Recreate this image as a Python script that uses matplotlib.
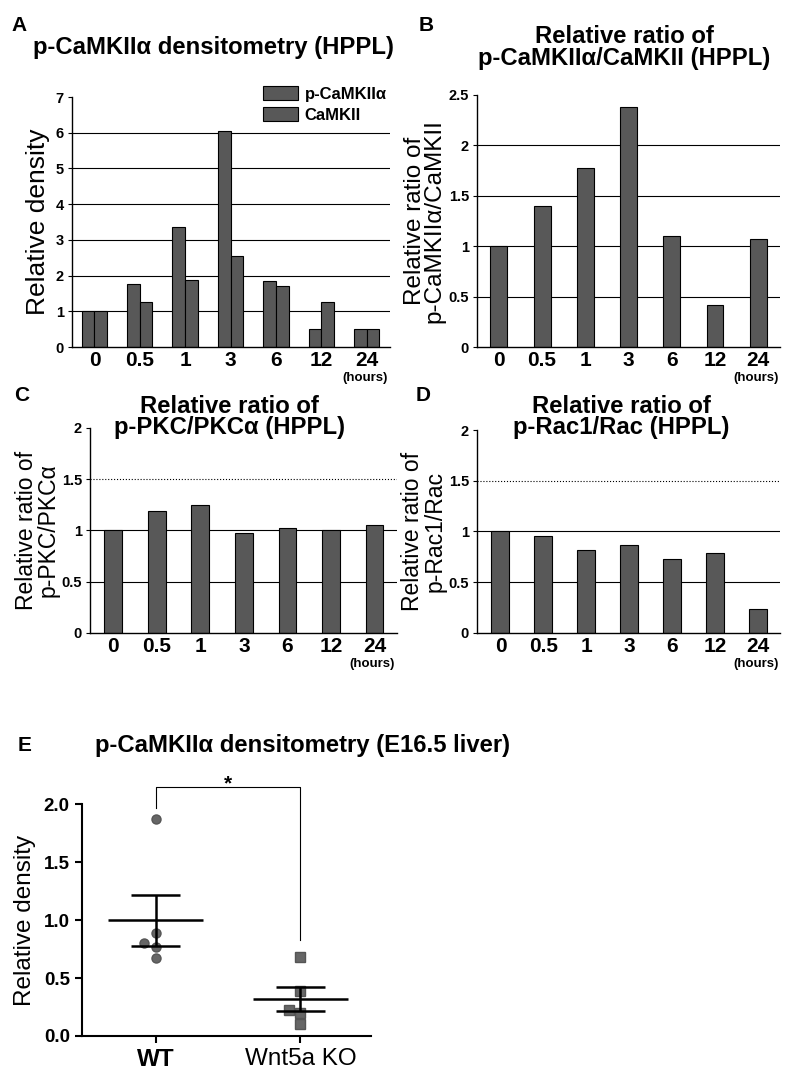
import matplotlib.pyplot as plt
import matplotlib.transforms as mtransforms
import numpy as np

plt.rcParams['font.family'] = ['Liberation Sans', 'DejaVu Sans']

hours = ['0', '0.5', '1', '3', '6', '12', '24']
a_pcamk = [1.0, 1.78, 3.35, 6.05, 1.85, 0.50, 0.52]
a_camk = [1.0, 1.27, 1.88, 2.55, 1.70, 1.25, 0.50]
b_ratio = [1.0, 1.40, 1.78, 2.38, 1.10, 0.42, 1.07]
c_ratio = [1.0, 1.19, 1.25, 0.97, 1.02, 1.00, 1.05]
d_ratio = [1.0, 0.96, 0.82, 0.87, 0.73, 0.79, 0.23]

e_groups = ['WT', 'Wnt5a KO']
e_wt = [1.87, 0.89, 0.80, 0.77, 0.67]
e_ko = [0.68, 0.39, 0.22, 0.20, 0.10]

bar_c = '#585858'
title_fs = 17.2

fig = plt.figure(figsize=(7.85, 10.78), dpi=100)


def bar_panel(rect, ylim, yticks, yticklabels, xlim, dotted=()):
    ax = fig.add_axes(rect)
    ax.set_xlim(*xlim)
    ax.set_ylim(*ylim)
    ax.set_yticks(yticks)
    ax.set_yticklabels(yticklabels, fontsize=10.5, fontweight='bold')
    ax.set_xticks(range(len(hours)))
    ax.set_xticklabels(hours, fontsize=15, fontweight='bold')
    ax.tick_params(axis='x', length=0, pad=3)
    ax.tick_params(axis='y', length=3, width=0.8, pad=3)
    for s in ['top', 'right']:
        ax.spines[s].set_visible(False)
    for s in ['left', 'bottom']:
        ax.spines[s].set_linewidth(1.0)
    for t in yticks[1:-1]:
        ls = ':' if t in dotted else '-'
        ax.axhline(t, color='black', lw=0.8, ls=ls, zorder=0)
    off = mtransforms.offset_copy(ax.transAxes, fig=fig, x=-2, y=-25,
                                  units='dots')
    ax.text(1.0, 0.0, '(hours)', transform=off, ha='right', va='top',
            fontsize=9.5, fontweight='bold')
    return ax


x = np.arange(len(hours))

# A
axA = bar_panel([0.092, 0.678, 0.405, 0.232], (0, 7), list(range(8)),
                [str(i) for i in range(8)], (-0.49, 6.52))
w = 0.28
axA.bar(x - w / 2, a_pcamk, w, color=bar_c, edgecolor='black', lw=0.8,
        label='p-CaMKII\u03b1', zorder=2)
axA.bar(x + w / 2, a_camk, w, color=bar_c, edgecolor='black', lw=0.8,
        label='CaMKII', zorder=2)
axA.set_ylabel('Relative density', fontsize=19, labelpad=4)
axA.legend(loc='upper right', bbox_to_anchor=(0.99, 1.045), frameon=False,
           prop={'weight': 'bold', 'size': 12}, handlelength=2.1,
           handleheight=0.95, labelspacing=0.3, handletextpad=0.4,
           borderaxespad=0, borderpad=0)
fig.text(0.015, 0.985, 'A', fontsize=15, fontweight='bold', va='top')
fig.text(0.042, 0.956, 'p-CaMKII\u03b1 densitometry (HPPL)',
         fontsize=title_fs, fontweight='bold', va='center')

# B
axB = bar_panel([0.608, 0.678, 0.386, 0.234], (0, 2.5),
                [0, 0.5, 1, 1.5, 2, 2.5], ['0', '0.5', '1', '1.5', '2', '2.5'],
                (-0.5, 6.51))
axB.bar(x, b_ratio, 0.39, color=bar_c, edgecolor='black', lw=0.8, zorder=2)
axB.set_ylabel('Relative ratio of\np-CaMKII\u03b1/CaMKII', fontsize=17.5,
               labelpad=2, linespacing=0.85)
fig.text(0.533, 0.985, 'B', fontsize=15, fontweight='bold', va='top')
fig.text(0.795, 0.956, 'Relative ratio of\np-CaMKII\u03b1/CaMKII (HPPL)',
         fontsize=title_fs, fontweight='bold', ha='center', va='center',
         linespacing=0.9)

# C
axC = bar_panel([0.115, 0.413, 0.391, 0.190], (0, 2),
                [0, 0.5, 1, 1.5, 2], ['0', '0.5', '1', '1.5', '2'],
                (-0.53, 6.52), dotted=(1.5,))
axC.bar(x, c_ratio, 0.41, color=bar_c, edgecolor='black', lw=0.8, zorder=2)
axC.set_ylabel('Relative ratio of\np-PKC/PKC\u03b1', fontsize=16.5,
               labelpad=1, linespacing=0.95)
fig.text(0.018, 0.642, 'C', fontsize=15, fontweight='bold', va='top')
fig.text(0.292, 0.613, 'Relative ratio of\np-PKC/PKC\u03b1 (HPPL)',
         fontsize=title_fs, fontweight='bold', ha='center', va='center',
         linespacing=0.9)

# D
axD = bar_panel([0.608, 0.413, 0.386, 0.188], (0, 2),
                [0, 0.5, 1, 1.5, 2], ['0', '0.5', '1', '1.5', '2'],
                (-0.54, 6.52), dotted=(1.5,))
axD.bar(x, d_ratio, 0.42, color=bar_c, edgecolor='black', lw=0.8, zorder=2)
axD.set_ylabel('Relative ratio of\np-Rac1/Rac', fontsize=16.5,
               labelpad=1, linespacing=1.0)
fig.text(0.53, 0.642, 'D', fontsize=15, fontweight='bold', va='top')
fig.text(0.792, 0.613, 'Relative ratio of\np-Rac1/Rac (HPPL)',
         fontsize=title_fs, fontweight='bold', ha='center', va='center',
         linespacing=0.9)

# E
axE = fig.add_axes([0.104, 0.039, 0.369, 0.215])
axE.set_xlim(-0.51, 1.49)
axE.set_ylim(0, 2.0)
wt_dx = [0, 0, -0.08, 0, 0]
ko_dx = [0, 0, -0.075, 0, 0]
for i, (vals, dx, mk) in enumerate([(e_wt, wt_dx, 'o'), (e_ko, ko_dx, 's')]):
    axE.plot(np.array(dx) + i, vals, mk, color='#666666', ms=6.5, zorder=2,
             mec='#555555')
    m = np.mean(vals)
    sem = np.std(vals, ddof=1) / np.sqrt(len(vals))
    axE.hlines(m, i - 0.33, i + 0.33, color='black', lw=1.8, zorder=3)
    axE.hlines([m - sem, m + sem], i - 0.17, i + 0.17, color='black', lw=1.8,
               zorder=3)
    axE.vlines(i, m - sem, m + sem, color='black', lw=1.8, zorder=3)
axE.set_xticks([0, 1])
axE.set_xticklabels(e_groups, fontsize=17.5)
axE.get_xticklabels()[0].set_fontweight('bold')
axE.set_yticks([0, 0.5, 1.0, 1.5, 2.0])
axE.set_yticklabels(['0.0', '0.5', '1.0', '1.5', '2.0'], fontsize=13.5,
                    fontweight='bold')
axE.tick_params(axis='both', length=5, width=1.5)
for s in ['top', 'right']:
    axE.spines[s].set_visible(False)
for s in ['left', 'bottom']:
    axE.spines[s].set_linewidth(1.5)
axE.set_ylabel('Relative density', fontsize=17.5, labelpad=6)
axE.plot([0, 0, 1, 1], [1.97, 2.15, 2.15, 0.83], color='black', lw=0.8,
         clip_on=False)
axE.text(0.5, 2.13, '*', ha='center', va='baseline', fontsize=15,
         fontweight='bold')
fig.text(0.022, 0.308, 'E', fontsize=15, fontweight='bold', va='center')
fig.text(0.121, 0.308, 'p-CaMKII\u03b1 densitometry (E16.5 liver)',
         fontsize=title_fs, fontweight='bold', va='center')

fig.savefig('out.png', dpi=100)
